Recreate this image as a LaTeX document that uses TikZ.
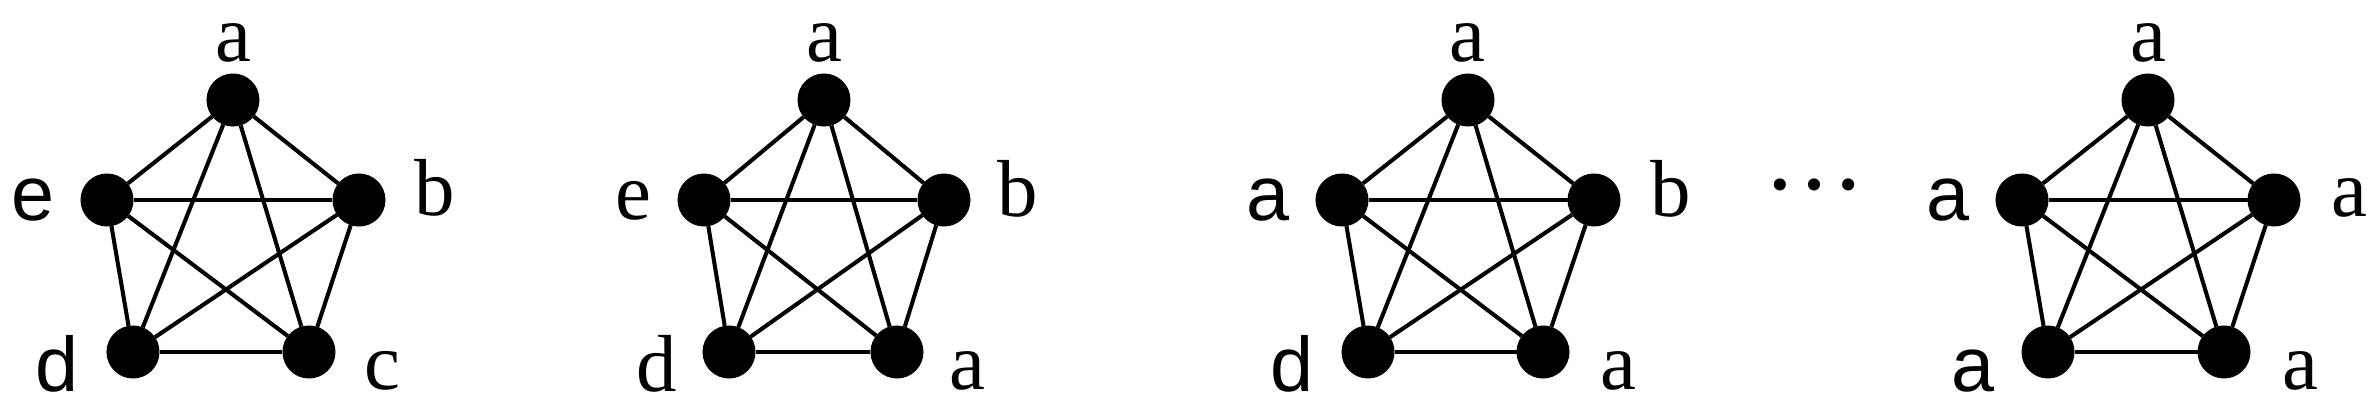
\documentclass[tikz,border=0pt]{standalone}
\usepackage{fontspec}
\usepackage{tikz}
\usepackage{tkz-graph}
\usetikzlibrary{arrows,%
                shapes,positioning}
\newfontfamily\labserif{Liberation Serif}
\newfontfamily\labsans{Liberation Sans}

\begin{document}
\begin{tikzpicture}[x=0.01cm,y=-0.01cm]
\useasboundingbox (0,0) rectangle (2378,418);
%\SetVertexNormal
\SetVertexNoLabel
\tikzset{VertexStyle/.style={shape=circle,fill=black,draw=none,inner sep=0pt,minimum size=0.53cm},
         EdgeStyle/.style={line width=1.15pt},
         ser/.style={inner sep=0pt,font=\labserif\fontsize{23}{27}\selectfont},
         san/.style={inner sep=0pt,font=\labsans\fontsize{22}{26}\selectfont}}
% first graph
\Vertex[x=233,y=100]{A1}
\Vertex[x=359,y=200]{B1}
\Vertex[x=309,y=352]{C1}
\Vertex[x=133,y=352]{D1}
\Vertex[x=107,y=200]{E1}
\Edges(A1,B1,C1,D1,E1,A1,C1,E1,B1,D1,A1)
\node[ser] (la1) at (233,43) {a};
\node[ser] (lb1) at (435,188) {b};
\node[ser] (lc1) at (382,371) {c};
\node[san] (ld1) at (57,364) {d};
\node[san] (le1) at (33,200) {e};
% second graph
\Vertex[x=824,y=100]{A2}
\Vertex[x=944,y=200]{B2}
\Vertex[x=897,y=352]{C2}
\Vertex[x=729,y=352]{D2}
\Vertex[x=704,y=200]{E2}
\Edges(A2,B2,C2,D2,E2,A2,C2,E2,B2,D2,A2)
\node[ser] (la2) at (824,43) {a};
\node[ser] (lb2) at (1018,189) {b};
\node[ser] (lc2) at (967,371) {a};
\node[ser] (ld2) at (657,364) {d};
\node[ser] (le2) at (633,201) {e};
% third graph
\Vertex[x=1468,y=100]{A3}
\Vertex[x=1594,y=200]{B3}
\Vertex[x=1543,y=352]{C3}
\Vertex[x=1368,y=352]{D3}
\Vertex[x=1342,y=200]{E3}
\Edges(A3,B3,C3,D3,E3,A3,C3,E3,B3,D3,A3)
\node[ser] (la3) at (1467,43) {a};
\node[ser] (lb3) at (1671,189) {b};
\node[ser] (lc3) at (1618,371) {a};
\node[san] (ld3) at (1292,364) {d};
\node[san] (le3) at (1268,200) {a};
% dots
\node[inner sep=0pt,font=\labserif\fontsize{29}{33}\selectfont] (dots) at (1814,185) {…};
% last graph
\Vertex[x=2148,y=100]{A4}
\Vertex[x=2274,y=200]{B4}
\Vertex[x=2224,y=352]{C4}
\Vertex[x=2048,y=352]{D4}
\Vertex[x=2022,y=200]{E4}
\Edges(A4,B4,C4,D4,E4,A4,C4,E4,B4,D4,A4)
\node[ser] (la4) at (2148,43) {a};
\node[ser] (lb4) at (2349,198) {a};
\node[ser] (lc4) at (2300,371) {a};
\node[san] (ld4) at (1973,371) {a};
\node[san] (le4) at (1948,200) {a};
\end{tikzpicture}
\end{document}
